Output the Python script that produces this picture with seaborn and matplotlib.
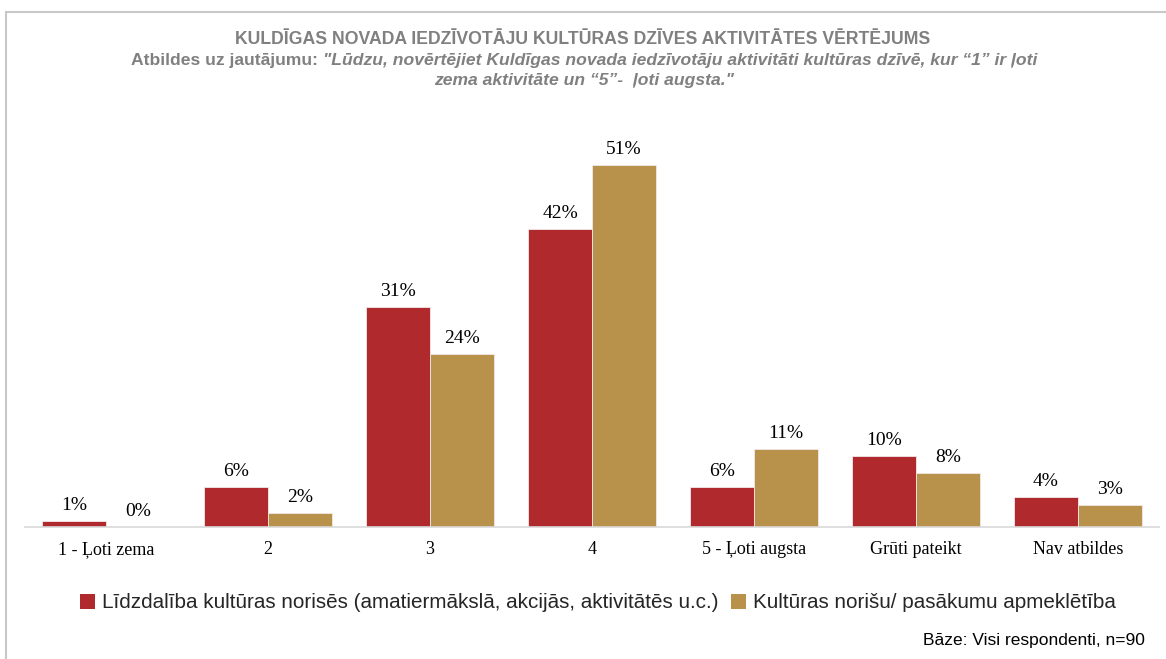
import matplotlib
matplotlib.use("Agg")
import matplotlib.pyplot as plt
import seaborn as sns
import pandas as pd
from matplotlib.lines import Line2D
from matplotlib.patches import Patch

categories = ["1 - Ļoti zema", "2", "3", "4", "5 - Ļoti augsta", "Grūti pateikt", "Nav atbildes"]
series_names = ["Līdzdalība kultūras norisēs (amatiermākslā, akcijās, aktivitātēs u.c.)",
                "Kultūras norišu/ pasākumu apmeklētība"]
participation = [0.9, 5.6, 31, 42, 5.6, 10, 4.2]
attendance = [0, 2, 24.4, 51, 11, 7.6, 3.1]
labels_participation = ["1%", "6%", "31%", "42%", "6%", "10%", "4%"]
labels_attendance = ["0%", "2%", "24%", "51%", "11%", "8%", "3%"]

colors = ["#B0292D", "#B8924B"]

df = pd.DataFrame({
    "cat": categories * 2,
    "series": [series_names[0]] * len(categories) + [series_names[1]] * len(categories),
    "val": participation + attendance,
})

sns.set_theme(style="white")
plt.rcParams['font.family'] = ['Liberation Sans', 'DejaVu Sans']

fig = plt.figure(figsize=(11.66, 6.59), dpi=100)
ax = fig.add_axes([25/1166, 1 - 527/659, (1159-25)/1166, (527-136.5)/659])

sns.barplot(data=df, x="cat", y="val", hue="series", palette=colors, width=0.79,
            order=categories, hue_order=series_names, ax=ax, legend=False,
            edgecolor="#F2E8E8", linewidth=0.6, saturation=1)

ax.set_ylim(0, 55)
ax.set_xlim(-0.5, len(categories) - 0.5)
ax.set_xlabel("")
ax.set_ylabel("")
ax.set_yticks([])
for s in ["top", "right", "left"]:
    ax.spines[s].set_visible(False)
ax.spines["bottom"].set_color("#D9D9D9")
ax.spines["bottom"].set_linewidth(1.2)
ax.tick_params(axis="x", length=0, pad=10)
for t in ax.get_xticklabels():
    t.set_fontfamily("Liberation Serif")
    t.set_fontsize(13)
    t.set_color("#000000")

for cont, labs in zip(ax.containers, [labels_participation, labels_attendance]):
    ax.bar_label(cont, labels=labs, padding=5, fontsize=14, family="Liberation Serif", color="#000000")

# Titles
grey = "#808080"
fig.text(0.5, 1 - 39/659, "KULDĪGAS NOVADA IEDZĪVOTĀJU KULTŪRAS DZĪVES AKTIVITĀTES VĒRTĒJUMS",
         ha="center", va="center", fontsize=12.7, fontweight="bold", color=grey)

renderer = fig.canvas.get_renderer()
part1 = "Atbildes uz jautājumu: "
part2 = "\"Lūdzu, novērtējiet Kuldīgas novada iedzīvotāju aktivitāti kultūras dzīvē, kur “1” ir ļoti"
y1 = 1 - 60/659
t1 = fig.text(0, y1, part1, ha="left", va="center", fontsize=12.6, fontweight="bold", color=grey)
t2 = fig.text(0, y1, part2, ha="left", va="center", fontsize=12.6, fontweight="bold", style="italic", color=grey)
w1 = t1.get_window_extent(renderer).width / fig.bbox.width
w2 = t2.get_window_extent(renderer).width / fig.bbox.width
x0 = 584/1166 - (w1 + w2) / 2
t1.set_x(x0)
t2.set_x(x0 + w1)
fig.text(584/1166, 1 - 80/659, "zema aktivitāte un “5”-  ļoti augsta.\"", ha="center", va="center",
         fontsize=12.6, fontweight="bold", style="italic", color=grey)

# Legend
handles = [Patch(facecolor=c, edgecolor="none") for c in colors]
fig.legend(handles, series_names, loc="center", bbox_to_anchor=(598/1166, 1 - 603/659), ncol=2,
           frameon=False, fontsize=14.9, handlelength=0.7, handleheight=0.7, handletextpad=0.35,
           columnspacing=0.6)

fig.text(1145/1166, 1 - 641/659, "Bāze: Visi respondenti, n=90", ha="right", va="center",
         fontsize=12.5, color="#000000")

# Frame lines
fig.add_artist(Line2D([5.5/1166, 1], [1 - 11.5/659] * 2, color="#C8C8C8", linewidth=1.5,
                      transform=fig.transFigure))
fig.add_artist(Line2D([5.5/1166] * 2, [0, 1 - 11.5/659], color="#C8C8C8", linewidth=1.5,
                      transform=fig.transFigure))

fig.savefig("out.png", dpi=100, facecolor="white")
